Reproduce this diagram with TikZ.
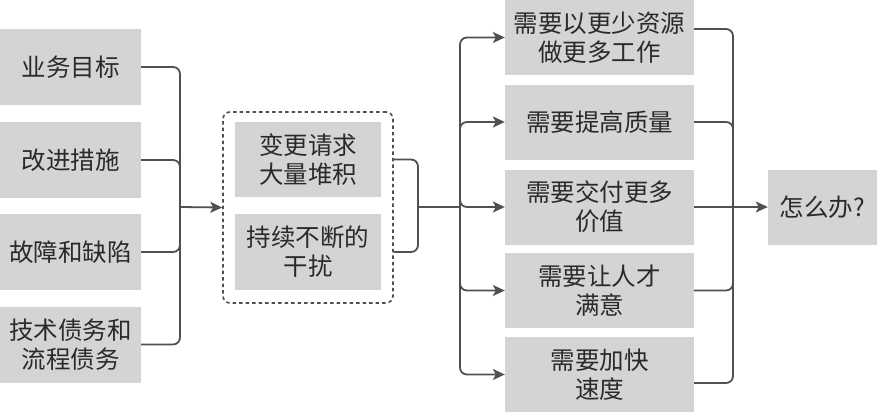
\documentclass[tikz,border=0pt]{standalone}
\usepackage{fontspec}
\setmainfont{Noto Sans CJK SC}
\usetikzlibrary{arrows.meta,calc}
\definecolor{boxgray}{HTML}{D4D4D4}
\definecolor{linegray}{HTML}{505050}
\definecolor{txtgray}{HTML}{2A2A2A}
\tikzset{
  gbox/.style={rectangle, fill=boxgray, inner sep=0pt, align=center, text=txtgray,
     font=\fontsize{24.5}{29}\selectfont},
  conn/.style={draw=linegray, line width=1.8pt, rounded corners=7pt},
  arr/.style={conn, -{Stealth[length=12pt,width=11pt,inset=3pt]}},
  dashbox/.style={draw=linegray, line width=1.6pt, dash pattern=on 3.5pt off 3pt, rounded corners=7pt, inner sep=0pt}
}
\begin{document}
\begin{tikzpicture}[x=1pt,y=-1pt]
\useasboundingbox (0,0) rectangle (877,412);
% left column
\node[gbox, minimum width=141pt, minimum height=76pt] (l1) at (70.5,67) {业务目标};
\node[gbox, minimum width=141pt, minimum height=76pt] (l2) at (70.5,160) {改进措施};
\node[gbox, minimum width=141pt, minimum height=76pt] (l3) at (70.5,252) {故障和缺陷};
\node[gbox, minimum width=141pt, minimum height=76pt] (l4) at (70.5,344.5) {技术债务和\\流程债务};
% middle
\node[dashbox, minimum width=170pt, minimum height=191pt] (mid) at (308,207.5) {};
\node[gbox, minimum width=146pt, minimum height=75pt] (m1) at (308,159.5) {变更请求\\大量堆积};
\node[gbox, minimum width=146pt, minimum height=76pt] (m2) at (308,252) {持续不断的\\干扰};
% right column
\node[gbox, minimum width=189pt, minimum height=75pt] (r1) at (599.5,37.5) {需要以更少资源\\做更多工作};
\node[gbox, minimum width=189pt, minimum height=75pt] (r2) at (599.5,122) {需要提高质量};
\node[gbox, minimum width=189pt, minimum height=75pt] (r3) at (599.5,207) {需要交付更多\\价值};
\node[gbox, minimum width=189pt, minimum height=75pt] (r4) at (599.5,290.5) {需要让人才\\满意};
\node[gbox, minimum width=189pt, minimum height=75pt] (r5) at (599.5,374.5) {需要加快\\速度};
% final
\node[gbox, minimum width=109pt, minimum height=75pt] (fin) at (822.5,207) {怎么办?};
% bus coordinates
\coordinate (j1) at (180,207);
\coordinate (j2) at (418,207);
\coordinate (b2) at (460,207);
\coordinate (j3) at (733,207);
% left connectors
\foreach \n in {l1,l2,l3,l4} \draw[conn] (\n.east) -| (j1);
\draw[arr] (j1) -- (mid.west);
% middle bracket
\draw[conn] (m1.center -| mid.east) -| (j2);
\draw[conn] (m2.center -| mid.east) -| (j2);
\draw[conn] (j2) -- (b2);
% fan out
\foreach \n in {r1,r2,r3,r4,r5} \draw[arr] (b2) |- (\n.west);
% right bracket
\draw[conn] ($(r1.east)+(0,-8.5)$) -| (j3);
\draw[conn] (r2.east) -| (j3);
\draw[conn] (r3.east) -- (j3);
\draw[conn] (r4.east) -| (j3);
\draw[conn] ($(r5.east)+(0,8.5)$) -| (j3);
\draw[arr] (j3) -- (fin.west);
\end{tikzpicture}
\end{document}
